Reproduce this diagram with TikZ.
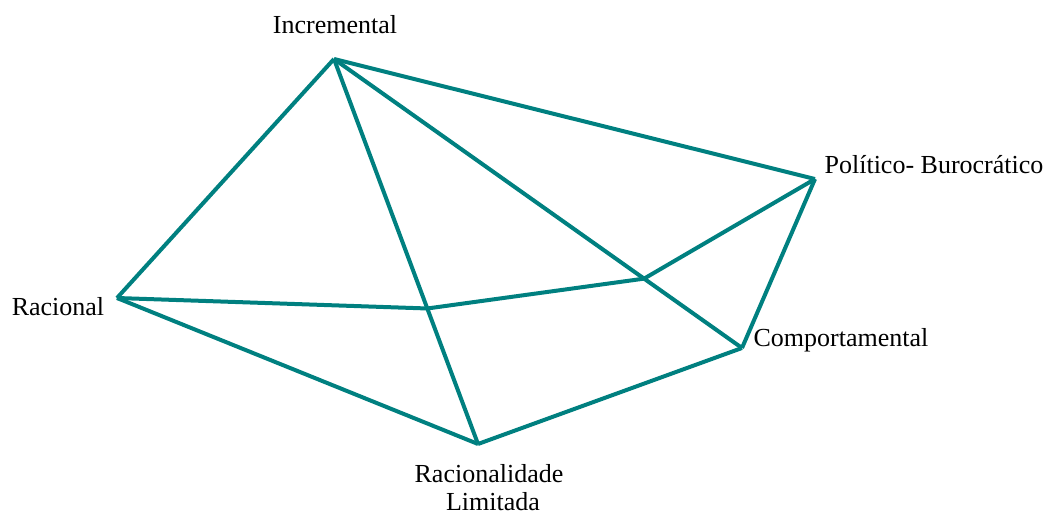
\documentclass[tikz,border=0pt]{standalone}
\usepackage{fontspec}
\setmainfont{Liberation Serif}
\usetikzlibrary{calc}
\definecolor{edgeteal}{RGB}{0,128,128}
\tikzset{
  edge/.style={draw=edgeteal, line width=2pt},
  lbl/.style={font=\fontsize{13}{14}\selectfont, inner sep=0pt, anchor=base, text=black}
}
\begin{document}
\begin{tikzpicture}[x=0.5pt, y=-0.5pt]
  \useasboundingbox (0,0) rectangle (1055,514);
  % corner points of the network
  \coordinate (inc)  at (334,59);
  \coordinate (pol)  at (815,179);
  \coordinate (rac)  at (117,298);
  \coordinate (comp) at (742,348);
  \coordinate (rl)   at (478,444);
  % crossing points on the inner diagonals
  \coordinate (m1) at ($(inc)!0.648!(rl)$);
  \coordinate (m2) at ($(inc)!0.760!(comp)$);
  % labels
  \node[lbl] (tinc)  at (335,33)  {Incremental};
  \node[lbl] (tpol)  at (934,173) {Político- Burocrático};
  \node[lbl] (trac)  at (58,315)  {Racional};
  \node[lbl] (tcomp) at (841,346) {Comportamental};
  \node[lbl] (trl1)  at (489,482) {Racionalidade};
  \node[lbl] (trl2)  at (493,510) {Limitada};
  % outer edges
  \draw[edge] (inc) -- (pol);
  \draw[edge] (inc) -- (rac);
  \draw[edge] (pol) -- (comp);
  \draw[edge] (comp) -- (rl);
  \draw[edge] (rl) -- (rac);
  % inner edges
  \draw[edge] (inc) -- (rl);
  \draw[edge] (inc) -- (comp);
  \draw[edge] (rac) -- (m1) -- (m2) -- (pol);
\end{tikzpicture}
\end{document}
